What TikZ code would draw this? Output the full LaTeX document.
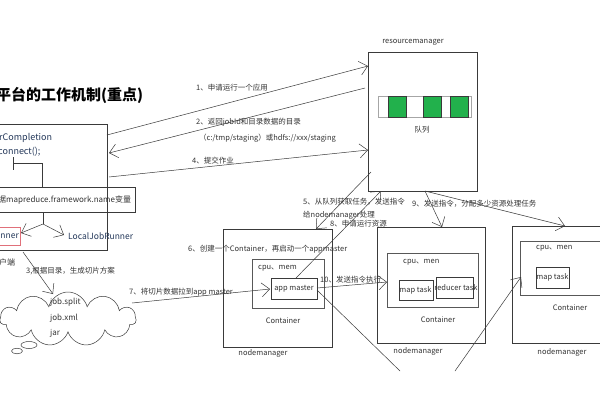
\documentclass[tikz,border=0pt]{standalone}
\usepackage{fontspec}
\setmainfont{Noto Sans CJK SC}
\usetikzlibrary{arrows.meta,shapes.symbols}
\definecolor{ln}{HTML}{3a3a3a}
\definecolor{tx}{HTML}{333333}
\definecolor{navy}{HTML}{24385a}
\definecolor{qgreen}{HTML}{22b14c}
\definecolor{redbox}{HTML}{e0707a}
\begin{document}
\begin{tikzpicture}[x=1pt,y=-1pt,
  box/.style={draw=ln,line width=0.7pt,inner sep=0pt,anchor=north west},
  lbl/.style={font=\fontsize{7.5}{9}\selectfont,text=tx,inner sep=0pt},
  clt/.style={font=\fontsize{9}{11}\selectfont,text=navy,inner sep=0pt},
  conn/.style={draw=ln,line width=0.5pt,-{Straight Barb[length=8pt,width=14pt,line width=0.5pt]}},
  plain/.style={draw=ln,line width=0.5pt},
]
\useasboundingbox (0,0) rectangle (600,400);
\fill[white] (0,0) rectangle (600,400);

% title
\node[anchor=west,inner sep=0pt,font=\fontsize{15}{18}\selectfont\bfseries] (title) at (-4,95) {平台的工作机制(重点)};

% client
\node[box,minimum width=112pt,minimum height=126pt] (client) at (-5,124) {};
\node[clt,anchor=west] (wfc) at (-1,138) {rCompletion};
\node[clt,anchor=west] (con) at (-2,152) {connect();};
\draw[plain] (13,157) -- (13,170);
\draw[plain] (13,163) -- (42,163) -- (42,187);
\node[box,minimum width=140pt,minimum height=25pt] (fw) at (-5,187) {};
\node[clt,anchor=west,text=tx,font=\fontsize{8}{10}\selectfont] (fwt) at (-2,200) {据mapreduce.framework.name变量};
\coordinate (fk0) at (43,212);
\coordinate (fk) at (43,224);
\node[draw=redbox,line width=0.7pt,inner sep=0pt,anchor=north west,minimum width=25pt,minimum height=18pt] (yr) at (-5,227) {};
\node[clt,anchor=east,font=\fontsize{8.5}{10}\selectfont] (yrt) at (19,236) {unner};
\node[clt,anchor=west,font=\fontsize{8.5}{10}\selectfont] (ljr) at (68,236) {LocalJobRunner};
\coordinate (yrt0) at (21,233);
\coordinate (ljr0) at (64,235);
\draw[plain] (fk0) -- (fk);
\draw[conn] (fk) -- (yrt0);
\draw[conn] (fk) -- (ljr0);
\node[lbl,anchor=west,font=\fontsize{8}{10}\selectfont] (kh) at (-1,262) {户端};

% cloud
\node[cloud,draw=ln,line width=0.5pt,cloud puffs=11,aspect=2.5,minimum width=136pt,minimum height=54pt] (cloud) at (68,319) {};
\draw[ln,line width=0.5pt] (29,345) ellipse (8 and 3.5);
\draw[ln,line width=0.5pt] (17,351) ellipse (5.5 and 2.8);
\node[lbl,anchor=west,font=\fontsize{8}{10}\selectfont] (js) at (50,302) {job.split};
\node[lbl,anchor=west,font=\fontsize{8}{10}\selectfont] (jx) at (50,318) {job.xml};
\node[lbl,anchor=west,font=\fontsize{8}{10}\selectfont] (jr) at (50,333) {jar};
\coordinate (c3a) at (23,252);
\coordinate (c3b) at (53,294);
\draw[conn] (c3a) -- (c3b);
\node[lbl,anchor=west] (l3) at (26,271) {3,根据目录，生成切片方案};

% resourcemanager
\node[box,minimum width=109pt,minimum height=139pt] (rm) at (368,52) {};
\node[lbl] (rml) at (413,42) {resourcemanager};
\draw[gray!70,line width=0.7pt] (378,96) rectangle (471,117);
\draw[fill=qgreen,draw=ln] (388,96) rectangle (406,117);
\draw[fill=qgreen,draw=ln] (423,96) rectangle (441,117);
\draw[fill=qgreen,draw=ln] (450,96) rectangle (468,117);
\node[lbl] (ql) at (422,130) {队列};

% arrows client <-> rm
\coordinate (a1s) at (107,135);
\coordinate (a1e) at (368,66);
\draw[conn] (a1s) -- (a1e);
\node[lbl,anchor=west] (l1) at (196,88) {1、申请运行一个应用};
\coordinate (a2s) at (365,88);
\coordinate (a2e) at (109,153);
\draw[conn] (a2s) -- (a2e);
\node[lbl,anchor=west] (l2a) at (196,122) {2、返回jobId和目录数据的目录};
\node[lbl,anchor=west] (l2b) at (199,138) {（c:/tmp/staging）或hdfs://xxx/staging};
\coordinate (a4s) at (109,177);
\coordinate (a4e) at (368,150);
\draw[conn] (a4s) -- (a4e);
\node[lbl,anchor=west] (l4) at (192,161) {4、提交作业};

% nodemanager 1
\node[box,minimum width=109pt,minimum height=118pt] (nm1) at (223,229) {};
\node[lbl] (nm1l) at (263,353) {nodemanager};
\node[box,draw=ln!85,minimum width=72pt,minimum height=49pt] (c1) at (252,259) {};
\node[lbl,anchor=west] (c1cpu) at (258,268) {cpu、mem};
\node[lbl] (c1l) at (283,321) {Container};
\node[box,minimum width=46pt,minimum height=21pt] (am) at (271,278) {};
\node[lbl] (amt) at (294,288.5) {app master};
\node[lbl,anchor=west] (l6) at (188,249) {6、创建一个Container，再启动一个appmaster};

% nodemanager 2
\node[box,minimum width=108pt,minimum height=116pt] (nm2) at (377,227) {};
\node[lbl] (nm2l) at (418,351) {nodemanager};
\node[box,draw=ln!85,minimum width=91pt,minimum height=54pt] (c2) at (387,253) {};
\node[lbl,anchor=west] (c2cpu) at (403,262) {cpu、men};
\node[lbl] (c2l) at (438,320) {Container};
\node[box,minimum width=34pt,minimum height=20pt] (mt2) at (399,280) {};
\node[lbl] (mt2t) at (415.5,290) {map task};
\node[box,minimum width=37pt,minimum height=21pt] (rt2) at (436,277) {};
\node[lbl] (rt2t) at (456,287.5) {reducer task};

% nodemanager 3
\node[box,minimum width=100pt,minimum height=117pt] (nm3) at (512,226) {};
\node[lbl] (nm3l) at (562,352) {nodemanager};
\node[box,draw=ln!85,minimum width=90pt,minimum height=54pt] (c3) at (520,241) {};
\node[lbl,anchor=west] (c3cpu) at (536,248) {cpu、men};
\node[box,minimum width=33pt,minimum height=21pt] (mt3) at (536,267) {};
\node[lbl] (mt3t) at (552.5,277.5) {map task};
\node[lbl] (c3l) at (570,308) {Container};

% arrows 5, 8, 9
\coordinate (a5s) at (371,172);
\coordinate (a5e) at (316,229);
\draw[conn] (a5s) -- (a5e);
\node[lbl,anchor=west] (l5a) at (303,202) {5、从队列获取任务，发送指令};
\node[lbl,anchor=west] (l5b) at (303,215) {给nodemanager处理};
\coordinate (a8s) at (296,278);
\coordinate (a8e) at (381,191);
\draw[conn] (a8s) -- (a8e);
\node[lbl,anchor=west] (l8) at (330,224) {8、申请运行资源};
\coordinate (a9s) at (425,191);
\coordinate (a9e) at (442,227);
\coordinate (a9f) at (565,226);
\draw[conn] (a9s) -- (a9e);
\draw[conn] (a9s) -- (a9f);
\node[lbl,anchor=west] (l9) at (412,204) {9、发送指令，分配多少资源处理任务};

% arrow 7
\coordinate (a7s) at (132,303);
\coordinate (a7e) at (270,289);
\draw[conn] (a7s) -- (a7e);
\node[lbl,anchor=west] (l7) at (129,292) {7、将切片数据拉到app master};

% arrow 10
\coordinate (a10s) at (317,288);
\coordinate (a10e) at (387,282);
\draw[conn] (a10s) -- (a10e);
\node[lbl,anchor=west] (l10) at (320,280) {10、发送指令执行};

% long connector from app master to container 3
\coordinate (lc1) at (317,290);
\coordinate (lc2) at (400,371);
\coordinate (lc3) at (455,371);
\coordinate (lc4) at (521,277);
\draw[plain] (lc1) -- (lc2);
\draw[conn] (lc3) -- (lc4);
\end{tikzpicture}
\end{document}
